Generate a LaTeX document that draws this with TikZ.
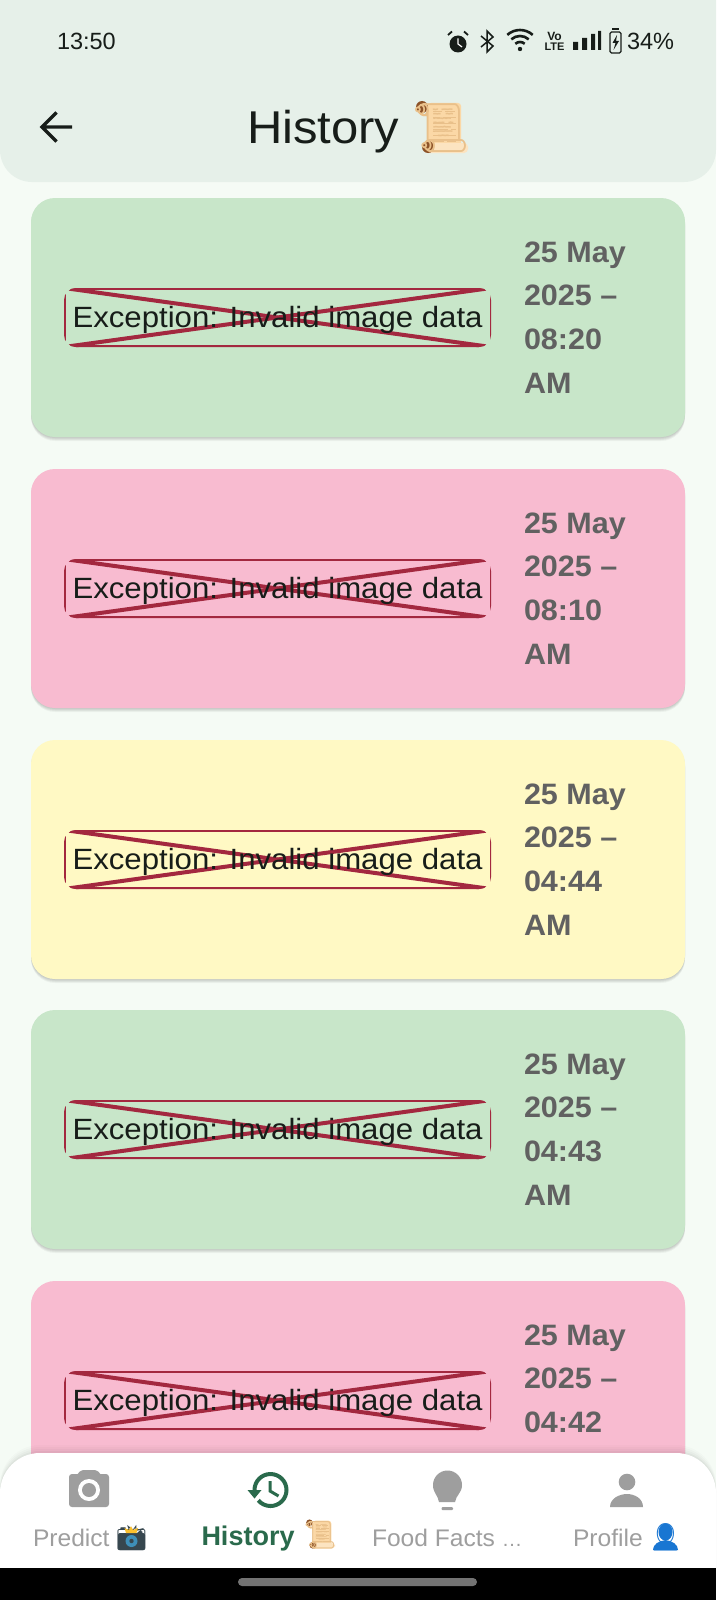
\documentclass[tikz,border=0pt]{standalone}
\usepackage{fontspec}
\setmainfont{Liberation Sans}
\newfontfamily\emojifont{Noto Emoji}
\newfontfamily\errfont[FakeStretch=1.064]{Liberation Sans}
\newfontfamily\titlefont[FakeStretch=1.065]{Liberation Sans}
\newfontfamily\datefont[FakeStretch=1.035]{Liberation Sans}
\newfontfamily\navfont[FakeStretch=1.025]{Liberation Sans}
\definecolor{bgc}{HTML}{F5FBF5}
\definecolor{barc}{HTML}{E6F0E9}
\definecolor{gcard}{HTML}{C8E6C9}
\definecolor{pcard}{HTML}{F8BBD0}
\definecolor{ycard}{HTML}{FFF9C4}
\definecolor{errc}{HTML}{A3283F}
\definecolor{inkc}{HTML}{171D19}
\definecolor{datec}{HTML}{616161}
\definecolor{navg}{HTML}{9E9E9E}
\definecolor{navs}{HTML}{2A6A4C}
\definecolor{scr}{HTML}{FBD8A6}
\definecolor{scrd}{HTML}{E9C08A}
\definecolor{knob}{HTML}{8C5228}
\definecolor{camd}{HTML}{37474F}
\definecolor{lens}{HTML}{3E8FB8}
\definecolor{flash}{HTML}{FBC02D}
\definecolor{persb}{HTML}{1976D2}
\tikzset{
  lab/.style={inner sep=0pt,outer sep=0pt,anchor=base west},
  errtext/.style={lab,text=inkc,font=\errfont\fontsize{29.3}{30}\selectfont},
  datetext/.style={lab,text=datec,font=\datefont\bfseries\fontsize{29.5}{30}\selectfont},
  navtext/.style={lab,text=navg,font=\navfont\fontsize{24}{26}\selectfont},
  stat/.style={lab,text=inkc,font=\fontsize{23.5}{26}\selectfont},
  emo/.style={inner sep=0pt,outer sep=0pt,anchor=center},
}
\newcommand{\scrollart}[3]{%
  \begin{scope}[shift={(#1,#2)},scale=#3]
    \fill[scr,rounded corners=3pt] (14,1) rectangle (47,46);
    \fill[scr!70!white,rounded corners=4pt] (10,41) rectangle (54,51);
    \fill[knob] (8,5) circle (6);
    \fill[knob] (14,45) circle (6);
    \foreach \yy/\aa/\bb in {9/19/28,9/31/41,15/19/26,15/29/42,21/19/42,27/19/34,27/37/42,33/19/42,39/19/30,39/33/42}
      \draw[scrd,line width=.9pt] (\aa,\yy)--(\bb,\yy);
  \end{scope}}
\begin{document}
\begin{tikzpicture}[x=1pt,y=-1pt]
\useasboundingbox (0,0) rectangle (716,1600);
\fill[bgc] (0,0) rectangle (716,1600);

% cards
\foreach \i/\ty/\col/\tm/\ampm in {1/198/gcard/08:20/AM,2/469/pcard/08:10/AM,3/740/ycard/04:44/AM,4/1010/gcard/04:43/AM,5/1281/pcard/04:42/}{
  \foreach \d/\o in {1/.05,2/.05,3/.05,4/.04}
    \fill[black,opacity=\o,rounded corners=24pt] (31,\ty+\d) rectangle (685,\ty+239+\d);
  \fill[\col,rounded corners=24pt] (31,\ty) rectangle (685,\ty+239);
  \begin{scope}
    \clip[rounded corners=12pt] (64,\ty+90) rectangle (491,\ty+149);
    \draw[errc,line width=4pt] (64,\ty+90) -- (491,\ty+90) (64,\ty+149) -- (491,\ty+149);
    \draw[errc,line width=3pt] (64,\ty+90) -- (64,\ty+149) (491,\ty+90) -- (491,\ty+149);
    \draw[errc,line width=4pt] (64,\ty+90) -- (491,\ty+149);
    \draw[errc,line width=4pt] (64,\ty+149) -- (491,\ty+90);
  \end{scope}
  \node[errtext] (err\i) at (72.5,\ty+129) {Exception: Invalid image data};
  \node[datetext] (da\i) at (524,\ty+64) {25 May};
  \node[datetext] (db\i) at (524,\ty+107.7) {2025 –};
  \node[datetext] (dc\i) at (524,\ty+151.4) {\tm};
  \if\relax\ampm\relax\else
    \node[datetext] (dd\i) at (524,\ty+195) {\ampm};
  \fi
}

% top bar
\fill[barc] (0,0) -- (716,0) -- (716,150) arc (0:90:32) -- (32,182) arc (90:180:32) -- cycle;
\node[stat] (clock) at (57,50) {13:50};
\node[stat] (batt) at (627,50) {34\%};
% status icons
\fill[inkc] (458,44) circle (8.5);
\draw[white,line width=1.2pt] (458,38.5) -- (458,44) -- (462,47);
\draw[inkc,line width=1.8pt] (448,35) -- (452,31.5) (468,35) -- (464,31.5);
\draw[inkc,line width=1.5pt,line join=miter] (481,36) -- (493,46) -- (487,52) -- (487,31) -- (493,37) -- (481,47);
\foreach \r in {7,13,19}
  \draw[inkc,line width=2.6pt] (520,49) ++(228:\r) arc (228:312:\r);
\fill[inkc] (520,49) circle (2.2);
\node[inner sep=0pt,text=inkc,font=\bfseries\fontsize{12}{12}\selectfont] (vo) at (554.5,36) {Vo};
\node[inner sep=0pt,text=inkc,font=\bfseries\fontsize{11}{11}\selectfont] (lte) at (554.5,46.5) {LTE};
\fill[inkc] (573,42) rectangle (578,50) (582,38) rectangle (587,50) (591,34) rectangle (595,50) (598,31) rectangle (601,50);
\draw[inkc,line width=1.3pt,rounded corners=1.5pt] (610,32) rectangle (621,53);
\fill[inkc] (612,28) rectangle (619,30);
\fill[inkc] (617,35) -- (612.5,43) -- (615.5,43) -- (613.5,50) -- (619,41) -- (616,41) -- cycle;

% back arrow and title
\draw[inkc,line width=3.2pt,line join=miter] (72,127) -- (42,127) (56.5,112.5) -- (42,127) -- (56.5,141.5);
\node[lab,text=inkc,font=\titlefont\fontsize{46}{50}\selectfont] (title) at (247,143) {History};
\scrollart{414}{102}{1}
\node[emo,text=scrd,font=\emojifont\fontsize{48}{50}\selectfont] (titleemoji) at (441,128) {📜};

% bottom nav
\foreach \d/\o in {2/.03,4/.025,6/.02,8/.015}
  \fill[black,opacity=\o] (0,1568) -- (0,1493-\d) arc (180:270:40) -- (676,1453-\d) arc (270:360:40) -- (716,1568) -- cycle;
\fill[white] (0,1568) -- (0,1493) arc (180:270:40) -- (676,1453) arc (270:360:40) -- (716,1568) -- cycle;
\fill[black] (0,1568) rectangle (716,1600);
\fill[gray!90!black,rounded corners=4pt] (238,1578) rectangle (477,1586);

% camera
\fill[navg,rounded corners=3pt] (69,1474) rectangle (109,1507);
\fill[navg,rounded corners=2pt] (76,1476) -- (81,1470) -- (97,1470) -- (102,1476) -- cycle;
\fill[white] (89,1490) circle (11);
\fill[navg] (89,1490) circle (7);
% history
\draw[navs,line width=4pt] (270.5,1490) ++(180:16) arc (180:500:16);
\fill[navs] (247.5,1490) -- (261.5,1490) -- (254.5,1498.5) -- cycle;
\draw[navs,line width=3pt] (270,1481) -- (270,1491) -- (278.5,1496);
% bulb
\fill[navg] (433,1485) arc (180:360:14.5) .. controls (462,1493) and (456,1495) .. (455,1502) -- (439,1502) .. controls (438,1495) and (433,1493) .. (433,1485) -- cycle;
\fill[navg,rounded corners=1pt] (441.5,1507) rectangle (453,1510);
% person
\fill[navg] (627,1482) circle (8.3);
\fill[navg] (610,1507) .. controls (610,1498) and (620,1494) .. (627,1494) .. controls (634,1494) and (643,1498) .. (643,1507) -- cycle;

\node[navtext] (navp) at (33,1546) {Predict};
\fill[camd,rounded corners=2pt] (118,1533) rectangle (145,1550);
\node[emo,text=camd,font=\emojifont\fontsize{25}{28}\selectfont] (camemoji) at (131.5,1538) {📸};
\fill[lens] (131.5,1541) circle (6);
\fill[camd] (131.5,1541) circle (2.2);
\fill[flash] (131,1526) -- (133,1530) -- (138,1528) -- (136.5,1533) -- (126,1533) -- (124.5,1528) -- (129,1530) -- cycle;
\node[lab,text=navs,font=\bfseries\fontsize{27}{28}\selectfont] (navh) at (201.5,1545) {History};
\scrollart{305}{1520}{.56}
\node[emo,text=scrd,font=\emojifont\fontsize{27}{28}\selectfont] (navscroll) at (320,1535) {📜};
\node[navtext] (navf) at (372,1546) {Food Facts {\fontsize{20}{20}\selectfont …}};
\node[navtext] (navr) at (573,1546) {Profile};
\fill[persb] (665.5,1532) ellipse (7 and 8.5);
\fill[persb] (653,1550) .. controls (653,1544) and (659,1541) .. (665.5,1540) .. controls (672,1541) and (678,1544) .. (678,1550) -- cycle;
\node[emo,text=persb,font=\emojifont\fontsize{27}{28}\selectfont] (personemoji) at (665.5,1537) {👤};
\end{tikzpicture}
\end{document}
